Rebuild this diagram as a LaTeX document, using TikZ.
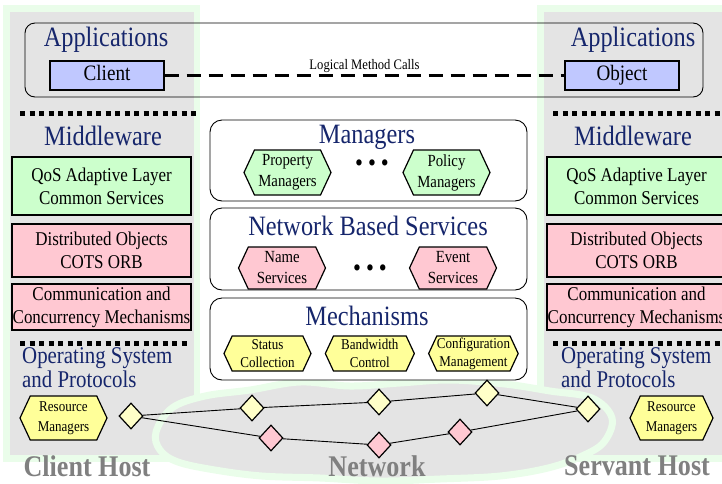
\documentclass[tikz,border=0pt]{standalone}
\usepackage{fontspec}
\setmainfont{Liberation Serif}[FakeStretch=0.87]
\usepackage{tikz}
\usetikzlibrary{positioning, shapes.geometric, shapes.symbols}
\definecolor{hostgray}{RGB}{228,228,228}
\definecolor{hostgreen}{RGB}{234,253,234}
\definecolor{titleblue}{RGB}{22,38,108}
\definecolor{clientblue}{RGB}{192,200,255}
\definecolor{qosgreen}{RGB}{204,255,204}
\definecolor{orbpink}{RGB}{255,200,210}
\definecolor{hexyellow}{RGB}{255,255,153}
\definecolor{paleyellow}{RGB}{255,255,200}
\definecolor{labelgray}{RGB}{128,128,128}

\begin{document}
\begin{tikzpicture}[
        x=1pt, y=-1pt,
        heading/.style={text=titleblue, font=\fontsize{28}{27}\selectfont, inner sep=0},
        clientbox/.style={rectangle, draw, line width=1.3pt, fill=clientblue, minimum width=114, minimum height=29, inner sep=0, text height=14pt, text depth=4pt, font=\fontsize{22}{24}\selectfont},
        layerbox/.style={rectangle, draw, line width=1.3pt, minimum width=179, align=center, inner sep=0, font=\fontsize{19.5}{23}\selectfont},
        panel/.style={rectangle, draw, line width=0.9pt, rounded corners=12pt, fill=white, minimum width=317, minimum height=81},
        hexbox/.style={signal, signal to=east and west, signal pointer angle=130, draw, line width=1.2pt, align=center, inner xsep=0, inner ysep=1, minimum width=87, minimum height=44, font=\fontsize{17}{21}\selectfont},
        router/.style={diamond, draw, line width=1.2pt, minimum width=24, minimum height=26, inner sep=0},
        hostname/.style={text=labelgray, font=\fontsize{30}{30}\selectfont\bfseries, inner sep=0},
        dots/.style={inner sep=0, font=\fontsize{26}{26}\selectfont},
        sepline/.style={line width=5pt, dash pattern=on 5pt off 4.5pt},
        link/.style={line width=0.9pt}
    ]
    \useasboundingbox (0,0) rectangle (722,483);

    % hosts
    \fill[hostgreen] (3,5) rectangle (200,462);
    \fill[hostgray] (10,12) rectangle (194,455);
    \fill[hostgreen] (537,5) rectangle (722,462);
    \fill[hostgray] (544,12) rectangle (722,455);

    % network cloud
    \draw[hostgreen, line width=7pt, fill=hostgray] plot[smooth cycle, tension=0.6] coordinates {(156,432) (172,408) (205,396) (250,390) (300,382) (350,386) (400,383) (450,380) (505,384) (550,391) (592,398) (612,418) (604,442) (582,456) (548,468) (500,476) (440,479) (380,481) (320,478) (262,476) (215,470) (178,462) (160,450)};

    % applications
    \node[panel, fill=none, rounded corners=10pt, minimum width=678, minimum height=74] (apps) at (364,60) {};
    \node[heading] (appsL) at (106,40) {Applications};
    \node[heading] (appsR) at (633,40) {Applications};
    \node[clientbox] (client) at (107,75.5) {Client};
    \node[clientbox] (object) at (622,75.5) {Object};
    \draw[line width=2.5pt, dash pattern=on 14pt off 8pt] (client) -- node[above, inner sep=2pt, font=\fontsize{14.5}{15}\selectfont] (calls) {Logical Method Calls} (object);

    \draw[sepline] (20,113) -- (196,113);
    \draw[sepline] (553,113) -- (722,113);
    \draw[sepline] (20,343) -- (190,343);
    \draw[sepline] (553,343) -- (722,343);

    % middleware
    \node[heading] (mwL) at (103,136) {Middleware};
    \node[heading] (mwR) at (633,136) {Middleware};
    \node[layerbox, fill=qosgreen, minimum height=58] (qosL) at (101.5,186) {QoS Adaptive Layer\\Common Services};
    \node[layerbox, fill=orbpink, minimum height=53] (orbL) at (101.5,250.5) {Distributed Objects\\COTS ORB};
    \node[layerbox, fill=orbpink, minimum height=46] (commL) at (101.5,307) {Communication and\\Concurrency Mechanisms};
    \node[layerbox, fill=qosgreen, minimum height=58] (qosR) at (636.5,186) {QoS Adaptive Layer\\Common Services};
    \node[layerbox, fill=orbpink, minimum height=53] (orbR) at (636.5,250.5) {Distributed Objects\\COTS ORB};
    \node[layerbox, fill=orbpink, minimum height=46] (commR) at (636.5,307) {Communication and\\Concurrency Mechanisms};

    % operating system
    \node[heading, anchor=west, align=left, font=\fontsize{24}{24}\selectfont] (osL) at (22,368) {Operating System\\and Protocols};
    \node[heading, anchor=west, align=left, font=\fontsize{24}{24}\selectfont] (osR) at (561,368) {Operating System\\and Protocols};
    \node[hexbox, fill=hexyellow, font=\fontsize{15}{20}\selectfont] (resL) at (63.5,418) {Resource\\Managers};
    \node[hexbox, fill=hexyellow, minimum width=83, font=\fontsize{15}{20}\selectfont] (resR) at (671.5,418) {Resource\\Managers};

    % network based middleware
    \node[panel] (managers) at (368.5,160.5) {};
    \node[heading] (mgrT) at (367,137) {Managers};
    \node[hexbox, fill=qosgreen, minimum height=45] (property) at (287.5,172.5) {Property\\Managers};
    \node[hexbox, fill=qosgreen, minimum height=45] (policy) at (446.5,172.5) {Policy\\Managers};
    \node[dots] (mgrdots) at (372,166) {\textbullet\hspace{5pt}\textbullet\hspace{5pt}\textbullet};

    \node[panel, minimum height=82] (services) at (368.5,249) {};
    \node[heading] (svcT) at (368,226) {Network Based Services};
    \node[hexbox, fill=orbpink, minimum height=42] (naming) at (282,268) {Name\\Services};
    \node[hexbox, fill=orbpink, minimum height=42] (event) at (453,268) {Event\\Services};
    \node[dots] (svcdots) at (370,271) {\textbullet\hspace{5pt}\textbullet\hspace{5pt}\textbullet};

    \node[panel, minimum height=82] (mechanisms) at (368.5,339) {};
    \node[heading] (mechT) at (367,316) {Mechanisms};
    \node[hexbox, fill=hexyellow, minimum height=35, font=\fontsize{15}{18}\selectfont] (status) at (267.5,353.5) {Status\\Collection};
    \node[hexbox, fill=hexyellow, minimum height=35, minimum width=89, font=\fontsize{15}{18}\selectfont, right=13pt of status] (bandwidth) {Bandwidth\\Control};
    \node[hexbox, fill=hexyellow, minimum height=35, minimum width=86, font=\fontsize{15}{18}\selectfont, right=13pt of bandwidth] (config) {Configuration\\Management};

    % routers
    \node[router, fill=paleyellow] (cgw) at (131,416) {};
    \node[router, fill=paleyellow] (ya) at (252,408) {};
    \node[router, fill=paleyellow] (yb) at (379,402) {};
    \node[router, fill=paleyellow] (yc) at (487,393) {};
    \node[router, fill=paleyellow] (sgw) at (588,409) {};
    \node[router, fill=orbpink] (pa) at (271,438) {};
    \node[router, fill=orbpink] (pb) at (379,445) {};
    \node[router, fill=orbpink] (pc) at (460,432) {};

    \draw[link] (cgw) -- (ya);
    \draw[link] (ya) -- (yb);
    \draw[link] (yb) -- (yc);
    \draw[link] (yc) -- (sgw);
    \draw[link] (cgw) -- (pa);
    \draw[link] (pa) -- (pb);
    \draw[link] (pb) -- (pc);
    \draw[link] (pc) -- (sgw);

    % labels
    \node[hostname] (clienthost) at (87,466) {Client Host};
    \node[hostname] (network) at (377,466) {Network};
    \node[hostname] (servanthost) at (637,466) {Servant Host};
\end{tikzpicture}
\end{document}
